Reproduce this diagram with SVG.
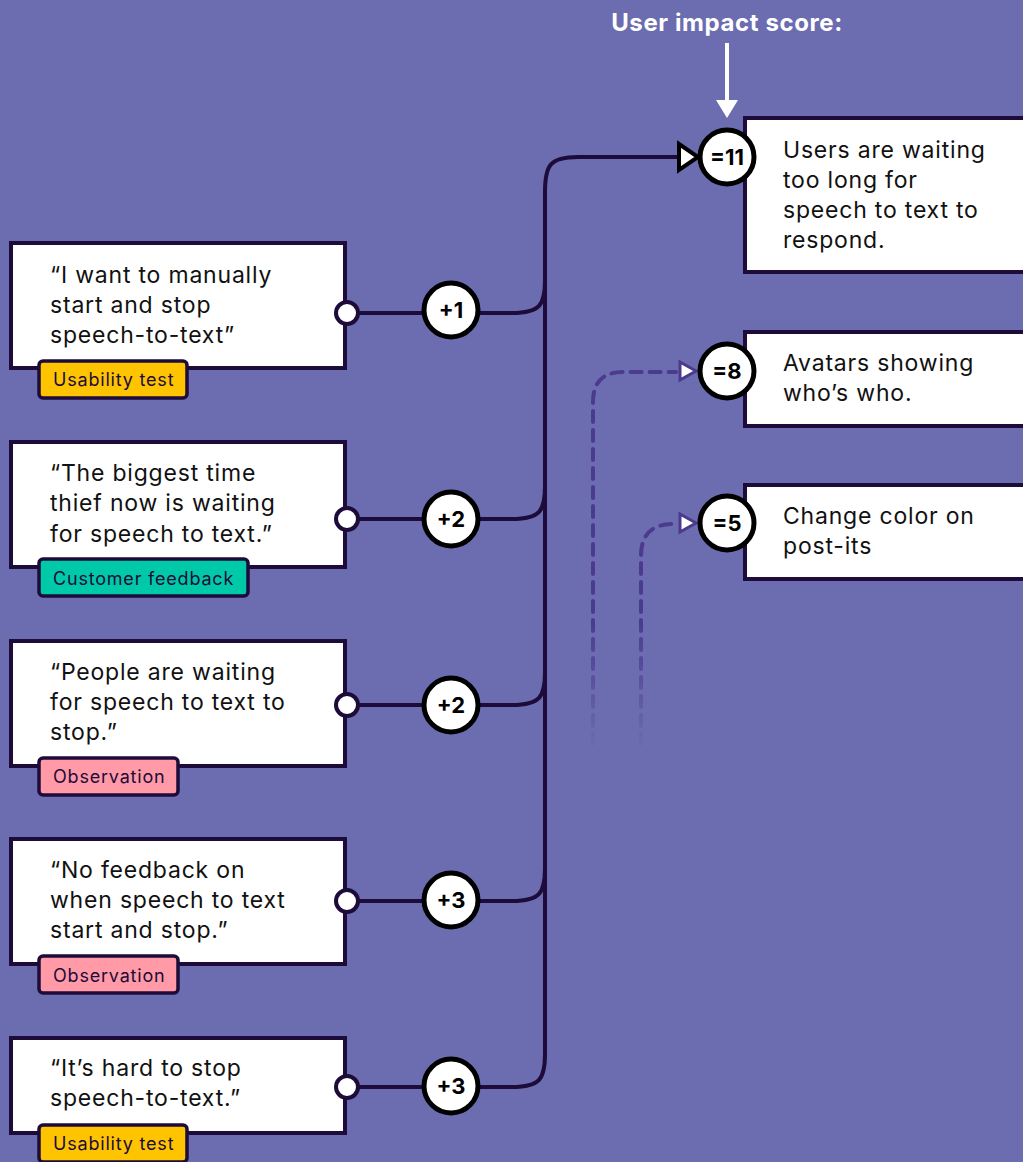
<svg xmlns="http://www.w3.org/2000/svg" width="1023" height="1162" viewBox="0 0 1023 1162">
<style>
.card{fill:#fff;stroke:#1d0b3a;stroke-width:4}
.txt{font-family:Inter,"Noto Sans",sans-serif;font-size:23px;letter-spacing:0.8px;fill:#111}
.tagt{font-family:Inter,"Noto Sans",sans-serif;font-size:18px;letter-spacing:0.8px;fill:#1d0b3a}
.tag{stroke:#1d0b3a;stroke-width:3.5}
.score{fill:#fff;stroke:#000;stroke-width:5}
.st{font-family:Inter,"Noto Sans",sans-serif;font-size:22px;font-weight:700;fill:#000;text-anchor:middle}
.dot{fill:#fff;stroke:#1d0b3a;stroke-width:4}
.line{fill:none;stroke:#1d0b3a;stroke-width:4}
.dash{fill:none;stroke-width:4;stroke-dasharray:11 8;stroke-linecap:round}
</style>
<defs>
<linearGradient id="fade" gradientUnits="userSpaceOnUse" x1="0" y1="620" x2="0" y2="750">
<stop offset="0" stop-color="#4b3b8f" stop-opacity="1"/>
<stop offset="1" stop-color="#4b3b8f" stop-opacity="0"/>
</linearGradient>
</defs>
<rect width="1023" height="1162" fill="#6c6cb0"/>

<g id="title">
<text x="727" y="31" text-anchor="middle" font-family="Inter,'Noto Sans',sans-serif" font-size="24" font-weight="700" letter-spacing="0.6" fill="#fff">User impact score:</text>
<line x1="727" y1="43" x2="727" y2="102" stroke="#fff" stroke-width="4"/>
<polygon points="716,100 738,100 727,118" fill="#fff"/>
</g>

<g id="connectors">
<path class="line" d="M347 313 H512 C540 313 545 305 545 280 V192 C545 165 550 157 578 157 H682"/>
<path class="line" d="M347 519 H512 C540 519 545 511 545 486 V192"/>
<path class="line" d="M347 705 H512 C540 705 545 697 545 672 V192"/>
<path class="line" d="M347 901 H512 C540 901 545 893 545 868 V192"/>
<path class="line" d="M347 1087 H512 C540 1087 545 1079 545 1054 V192"/>
<polygon points="679,144 698,157 679,170" fill="#fff" stroke="#000" stroke-width="4" stroke-linejoin="miter"/>
<path class="dash" stroke="url(#fade)" d="M593 745 V402 Q593 372 623 372 H676"/>
<path class="dash" stroke="url(#fade)" d="M641 745 V556 Q641 524 673 524 H676"/>
<polygon points="680,362 696,371 680,380" fill="#fff" stroke="#4b3b8f" stroke-width="3"/>
<polygon points="680,514 696,523 680,532" fill="#fff" stroke="#4b3b8f" stroke-width="3"/>
</g>

<g id="card1">
<rect class="card" x="11" y="243" width="334" height="125"/>
<text class="txt" x="50" y="283">“I want to manually</text>
<text class="txt" x="50" y="313">start and stop</text>
<text class="txt" x="50" y="343">speech-to-text”</text>
<rect class="tag" x="39" y="361" width="148" height="37" rx="4" fill="#ffc400"/>
<text class="tagt" x="53" y="386">Usability test</text>
<circle class="dot" cx="347" cy="313" r="11"/>
</g>
<g id="score1"><circle class="score" cx="451" cy="310" r="27"/><text class="st" x="451" y="318">+1</text></g>

<g id="card2">
<rect class="card" x="11" y="442" width="334" height="125"/>
<text class="txt" x="50" y="481">“The biggest time</text>
<text class="txt" x="50" y="511">thief now is waiting</text>
<text class="txt" x="50" y="542">for speech to text.”</text>
<rect class="tag" x="39" y="559" width="209" height="37" rx="4" fill="#00c9a7"/>
<text class="tagt" x="53" y="585">Customer feedback</text>
<circle class="dot" cx="347" cy="519" r="11"/>
</g>
<g id="score2"><circle class="score" cx="451" cy="519" r="27"/><text class="st" x="451" y="527">+2</text></g>

<g id="card3">
<rect class="card" x="11" y="641" width="334" height="125"/>
<text class="txt" x="50" y="680">“People are waiting</text>
<text class="txt" x="50" y="710">for speech to text to</text>
<text class="txt" x="50" y="740">stop.”</text>
<rect class="tag" x="39" y="758" width="139" height="37" rx="4" fill="#ff9aa6"/>
<text class="tagt" x="53" y="783">Observation</text>
<circle class="dot" cx="347" cy="705" r="11"/>
</g>
<g id="score3"><circle class="score" cx="451" cy="705" r="27"/><text class="st" x="451" y="713">+2</text></g>

<g id="card4">
<rect class="card" x="11" y="839" width="334" height="125"/>
<text class="txt" x="50" y="878">“No feedback on</text>
<text class="txt" x="50" y="908">when speech to text</text>
<text class="txt" x="50" y="938">start and stop.”</text>
<rect class="tag" x="39" y="956" width="139" height="37" rx="4" fill="#ff9aa6"/>
<text class="tagt" x="53" y="982">Observation</text>
<circle class="dot" cx="347" cy="901" r="11"/>
</g>
<g id="score4"><circle class="score" cx="451" cy="900" r="27"/><text class="st" x="451" y="908">+3</text></g>

<g id="card5">
<rect class="card" x="11" y="1038" width="334" height="95"/>
<text class="txt" x="50" y="1076">“It’s hard to stop</text>
<text class="txt" x="50" y="1106">speech-to-text.”</text>
<rect class="tag" x="39" y="1125" width="148" height="37" rx="4" fill="#ffc400"/>
<text class="tagt" x="53" y="1150">Usability test</text>
<circle class="dot" cx="347" cy="1087" r="11"/>
</g>
<g id="score5"><circle class="score" cx="451" cy="1086" r="27"/><text class="st" x="451" y="1094">+3</text></g>

<g id="result1">
<rect class="card" x="745" y="118" width="285" height="154"/>
<text class="txt" x="783" y="158">Users are waiting</text>
<text class="txt" x="783" y="188">too long for</text>
<text class="txt" x="783" y="218">speech to text to</text>
<text class="txt" x="783" y="248">respond.</text>
<circle class="score" cx="727" cy="157" r="27"/><text class="st" x="727" y="165">=11</text>
</g>

<g id="result2">
<rect class="card" x="745" y="332" width="285" height="94"/>
<text class="txt" x="783" y="371">Avatars showing</text>
<text class="txt" x="783" y="401">who’s who.</text>
<circle class="score" cx="727" cy="371" r="27"/><text class="st" x="727" y="379">=8</text>
</g>

<g id="result3">
<rect class="card" x="745" y="485" width="285" height="94"/>
<text class="txt" x="783" y="524">Change color on</text>
<text class="txt" x="783" y="554">post-its</text>
<circle class="score" cx="727" cy="523" r="27"/><text class="st" x="727" y="531">=5</text>
</g>
</svg>
